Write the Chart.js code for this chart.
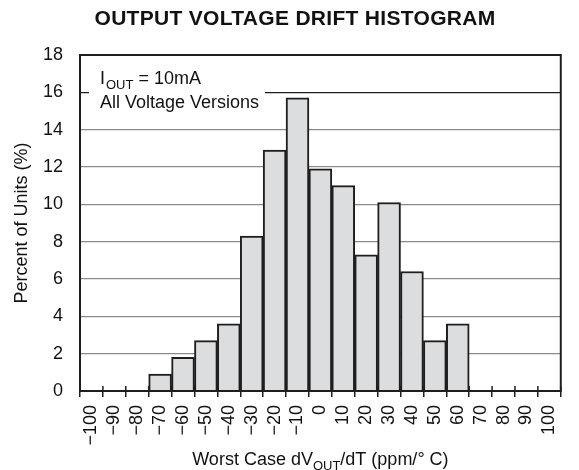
<!DOCTYPE html>
<html>
<head>
<meta charset="utf-8">
<script src="https://cdn.jsdelivr.net/npm/chart.js@4.4.0/dist/chart.umd.min.js"></script>
<style>
  html, body { margin: 0; padding: 0; background: #fff; }
  #wrap { width: 579px; height: 470px; }
</style>
</head>
<body>
<div id="wrap"><canvas id="driftChart" width="579" height="470"></canvas></div>
<script>
// histogram bins (ppm/°C) and tick labels
const bins = [-100, -90, -80, -70, -60, -50, -40, -30, -20, -10, 0, 10, 20, 30, 40, 50, 60, 70, 80, 90, 100];
const tickLabels = bins.map(v => v < 0 ? '\u2212' + Math.abs(v) : String(v));
// percent of units in each bin
const percentUnits = [0, 0, 0, 0.9, 1.8, 2.7, 3.6, 8.3, 12.9, 15.7, 11.9, 11.0, 7.3, 10.1, 6.4, 2.7, 3.6, 0, 0, 0, 0];
const yTicks = [0, 2, 4, 6, 8, 10, 12, 14, 16, 18];

const FONT = '"Liberation Sans", Arial, Helvetica, sans-serif';
const DARK = '#1e1e1e';

// extra drawing: title, note box, x title with subscript, frame, inner ticks
const decorations = {
    id: 'decorations',
    beforeDatasetsDraw(chart) {
        const ctx = chart.ctx;
        ctx.save();
        // white box behind the note
        ctx.fillStyle = '#fff';
        ctx.fillRect(89, 62, 176, 52);
        ctx.fillStyle = '#111';
        ctx.textBaseline = 'alphabetic';
        ctx.textAlign = 'left';
        ctx.font = '18px ' + FONT;
        ctx.fillText('I', 100, 84);
        let w = ctx.measureText('I').width;
        ctx.font = '13px ' + FONT;
        ctx.fillText('OUT', 100 + w + 1, 89);
        let w2 = ctx.measureText('OUT').width;
        ctx.font = '18px ' + FONT;
        ctx.fillText(' = 10mA', 100 + w + 1 + w2, 84);
        ctx.fillText('All Voltage Versions', 100, 108);
        ctx.restore();
    },
    afterDraw(chart) {
        const ctx = chart.ctx;
        const a = chart.chartArea;
        const xs = chart.scales.x;
        ctx.save();
        // frame
        ctx.strokeStyle = DARK;
        ctx.lineWidth = 2;
        ctx.strokeRect(a.left, a.top, a.right - a.left, a.bottom - a.top);
        // small ticks pointing up into the plot
        ctx.lineWidth = 1.5;
        const half = (xs.getPixelForValue(1) - xs.getPixelForValue(0)) / 2;
        for (let i = 0; i <= bins.length; i++) {
            const px = xs.getPixelForValue(i) - half;
            ctx.beginPath();
            ctx.moveTo(px, a.bottom - 5);
            ctx.lineTo(px, a.bottom);
            ctx.stroke();
        }
        // chart title
        ctx.fillStyle = '#111';
        ctx.textAlign = 'center';
        ctx.textBaseline = 'middle';
        ctx.font = 'bold 21px ' + FONT;
        ctx.letterSpacing = '0.3px';
        ctx.fillText('OUTPUT VOLTAGE DRIFT HISTOGRAM', 295, 19);
        ctx.letterSpacing = '0px';
        // x axis title with subscript
        const parts = [['Worst Case dV', 18, 0], ['OUT', 13, 5], ['/dT (ppm/\u00B0 C)', 18, 0]];
        let total = 0;
        parts.forEach(p => { ctx.font = p[1] + 'px ' + FONT; total += ctx.measureText(p[0]).width; });
        let x = (a.left + a.right) / 2 - total / 2;
        ctx.textAlign = 'left';
        ctx.textBaseline = 'alphabetic';
        parts.forEach(p => {
            ctx.font = p[1] + 'px ' + FONT;
            ctx.fillText(p[0], x, 465 + p[2]);
            x += ctx.measureText(p[0]).width;
        });
        ctx.restore();
    }
};

const ctx = document.getElementById('driftChart').getContext('2d');
const driftChart = new Chart(ctx, {
    type: 'bar',
    data: {
        labels: tickLabels,
        datasets: [{
            label: 'Percent of Units',
            data: percentUnits,
            backgroundColor: '#dcdddf',
            borderColor: DARK,
            borderWidth: 2,
            barPercentage: 1,
            categoryPercentage: 1
        }]
    },
    options: {
        responsive: false,
        animation: false,
        layout: { padding: { top: 55, right: 3, left: 0, bottom: 0 } },
        plugins: {
            legend: { display: false },
            tooltip: { enabled: false }
        },
        scales: {
            x: {
                offset: true,
                grid: {
                    offset: true,
                    drawOnChartArea: false,
                    color: DARK,
                    lineWidth: 1.5,
                    tickLength: 6
                },
                border: { display: false },
                ticks: {
                    minRotation: 90,
                    maxRotation: 90,
                    autoSkip: false,
                    padding: 8,
                    color: '#111',
                    font: { family: FONT, size: 18 }
                },
                afterFit: function (scale) { scale.height = 79; }
            },
            y: {
                min: 0,
                max: 18,
                afterBuildTicks: function (scale) {
                    scale.ticks = yTicks.map(v => ({ value: v }));
                },
                grid: {
                    drawTicks: false,
                    color: function (c) {
                        return c.tick && (c.tick.value === 16 || c.tick.value === 18) ? DARK : '#8a8a8a';
                    },
                    lineWidth: 1.2
                },
                border: { display: false },
                ticks: {
                    padding: 17,
                    color: '#111',
                    font: { family: FONT, size: 18 }
                },
                title: {
                    display: true,
                    text: 'Percent of Units (%)',
                    color: '#111',
                    font: { family: FONT, size: 18 },
                    padding: { top: 11, bottom: 0 }
                },
                afterFit: function (scale) { scale.width = 80; }
            }
        }
    },
    plugins: [decorations]
});
</script>
</body>
</html>
